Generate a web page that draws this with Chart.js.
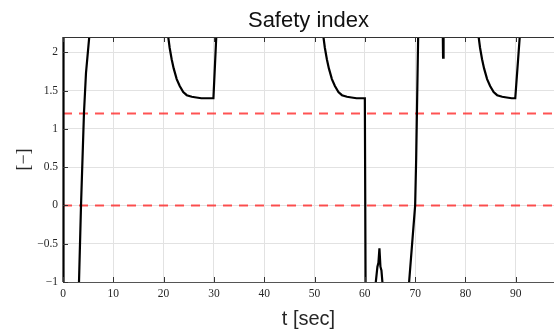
<!DOCTYPE html>
<html>
<head>
<meta charset="utf-8">
<script src="https://cdn.jsdelivr.net/npm/chart.js@4.4.0/dist/chart.umd.min.js"></script>
<style>
  html, body { margin: 0; padding: 0; background: #fff; }
</style>
</head>
<body>
<canvas id="myChart" width="554" height="334"></canvas>
<script>
// time [sec] and safety index samples (values outside -1..2.2 get clipped)
const timeSec = [
  0.1, 0.1, 3.1,
  3.18, 3.58, 4.17, 4.57, 5.23, 5.5,
  20.7, 20.9, 21.2, 21.6, 22.0, 22.6, 23.2, 23.9, 24.6, 25.6, 26.5, 27.5, 29.9, 30.5, 30.6,
  51.6, 51.75, 52.05, 52.45, 52.85, 53.45, 54.05, 54.75, 55.45, 56.45, 57.35, 58.35, 60.0, 60.15,
  62.1, 62.5, 62.7, 62.9, 63.1, 63.3, 63.55,
  68.75, 68.8, 70.0, 70.2, 70.6, 70.7,
  75.45, 75.55, 75.65,
  82.4, 82.6, 82.9, 83.3, 83.7, 84.3, 84.9, 85.6, 86.3, 87.3, 88.2, 89.2, 89.9, 90.8, 91.0,
  97.6
];
const safetyIdx = [
  2.6, -1.4, -1.1,
  -1.0, 0, 1.21, 1.73, 2.21, 2.4,
  2.5, 2.21, 2.06, 1.91, 1.79, 1.65, 1.56, 1.48, 1.44, 1.42, 1.41, 1.40, 1.40, 2.25, 2.5,
  2.4, 2.21, 2.06, 1.91, 1.79, 1.65, 1.56, 1.48, 1.44, 1.42, 1.41, 1.40, 1.40, -1.1,
  -1.05, -0.8, -0.75, -0.56, -0.8, -0.85, -1.05,
  -1.05, -1.0, 0, 0.6, 2.21, 2.5,
  2.5, 1.93, 2.5,
  2.5, 2.21, 2.06, 1.91, 1.79, 1.65, 1.56, 1.48, 1.44, 1.42, 1.41, 1.40, 1.40, 2.21, 2.5,
  2.5
];
const limitLevels = [1.2, 0];
const xRange = [0, 97.6];
const yRange = [-1, 2.2];
const xTickValues = [0, 10, 20, 30, 40, 50, 60, 70, 80, 90];
const yTickValues = [-1, -0.5, 0, 0.5, 1, 1.5, 2];

const myChart = document.getElementById("myChart");
const chartCtx = myChart.getContext("2d");

// inward tick marks (bottom, top, left) and the top border line
const boxTicks = {
  id: "boxTicks",
  afterDatasetsDraw(chart) {
    const { ctx, chartArea: a, scales } = chart;
    ctx.save();
    ctx.strokeStyle = "#333";
    ctx.lineWidth = 1;
    ctx.beginPath();
    ctx.moveTo(a.left, a.top + 0.5);
    ctx.lineTo(a.right, a.top + 0.5);
    xTickValues.forEach((v) => {
      const px = Math.round(scales.x.getPixelForValue(v)) + 0.5;
      ctx.moveTo(px, a.bottom);
      ctx.lineTo(px, a.bottom - 5);
      ctx.moveTo(px, a.top);
      ctx.lineTo(px, a.top + 5);
    });
    yTickValues.forEach((v) => {
      const py = Math.round(scales.y.getPixelForValue(v)) + 0.5;
      ctx.moveTo(a.left, py);
      ctx.lineTo(a.left + 5, py);
    });
    ctx.stroke();
    ctx.restore();
  },
};

const setTicks = (values) => (scale) => {
  scale.ticks = values.map((value) => ({ value }));
};

const minusSign = (v) => String(v).replace("-", "\u2212");

window.chart = new Chart(chartCtx, {
  type: "line",
  data: {
    datasets: [
      {
        label: "Safety index",
        data: timeSec.map((t, i) => ({ x: t, y: safetyIdx[i] })),
        borderColor: "#000",
        borderWidth: 2.2,
        pointRadius: 0,
        tension: 0,
        clip: { left: 1, top: 0, right: 0, bottom: 0 },
      },
      ...limitLevels.map((level) => ({
        label: "limit " + level,
        data: xRange.map((x) => ({ x, y: level })),
        borderColor: "rgba(255, 40, 40, 0.8)",
        borderWidth: 2,
        borderDash: [9, 7],
        pointRadius: 0,
      })),
    ],
  },
  options: {
    responsive: false,
    animation: false,
    events: [],
    layout: { padding: 0 },
    plugins: {
      legend: { display: false },
      title: { display: false },
      tooltip: { enabled: false },
    },
    scales: {
      x: {
        type: "linear",
        position: "bottom",
        min: xRange[0],
        max: xRange[1],
        afterBuildTicks: setTicks(xTickValues),
        afterFit: (s) => { s.height = 52; },
        grid: { color: "#e2e2e2", drawTicks: false },
        border: { display: true, color: "#555", width: 1 },
        ticks: {
          padding: 5,
          color: "#262626",
          font: { family: "Liberation Serif", size: 11.5 },
          callback: minusSign,
        },
        title: {
          display: true,
          text: "t [sec]",
          color: "#262626",
          font: { family: "Liberation Sans", size: 20 },
          padding: { top: 0, bottom: 3 },
        },
      },
      x2: {
        type: "linear",
        position: "top",
        min: xRange[0],
        max: xRange[1],
        afterFit: (s) => { s.height = 37; },
        grid: { display: false },
        border: { display: false },
        ticks: { display: false },
        title: {
          display: true,
          text: "Safety index",
          color: "#111",
          font: { family: "Liberation Sans", size: 22 },
          padding: { top: 7.6, bottom: 0 },
        },
      },
      y: {
        type: "linear",
        min: yRange[0],
        max: yRange[1],
        afterBuildTicks: setTicks(yTickValues),
        afterFit: (s) => { s.width = 63; },
        grid: { color: "#e2e2e2", drawTicks: false },
        border: { display: true, color: "#555", width: 1 },
        ticks: {
          padding: 5,
          color: "#262626",
          font: { family: "Liberation Serif", size: 11.5 },
          callback: minusSign,
        },
        title: {
          display: true,
          text: "[\u2212]",
          color: "#262626",
          font: { family: "Liberation Serif", size: 18 },
          padding: { top: 13, bottom: 0 },
        },
      },
    },
  },
  plugins: [boxTicks],
});
</script>
</body>
</html>
